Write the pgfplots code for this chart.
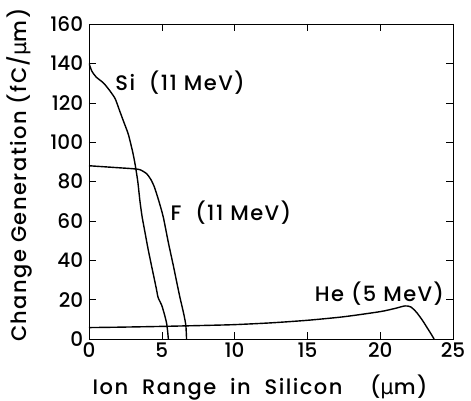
\documentclass[border=0pt]{standalone}
\usepackage{pgfplots}
\pgfplotsset{compat=1.18}
\usepackage{fontspec}
\setmainfont{Poppins Medium}
\newfontfamily\gr{DejaVu Sans}
\newcommand{\fs}{\fontsize{20}{24}\selectfont}
\newcommand{\fl}{\fontsize{21}{25}\selectfont}
\newcommand{\ls}{\addfontfeature{LetterSpace=7}}
\begin{document}
\fs
\begin{tikzpicture}
\path[use as bounding box] (-89pt,-62pt) rectangle (382pt,339pt);
\begin{axis}[
  scale only axis, width=364pt, height=315pt,
  xmin=0, xmax=25, ymin=0, ymax=160,
  xtick={0,5,10,15,20,25}, ytick={0,20,40,60,80,100,120,140,160},
  tick align=inside, major tick length=7pt,
  tick style={black, thin},
  axis line style={black, thin},
  /pgf/number format/assume math mode=true,
  tick label style={font=\fs},
  xticklabel style={yshift=3pt},
  yticklabel style={xshift=1pt},
  xlabel={Ion\ \ Range\ \ in\ \ Silicon\ \ \ \ ({\gr μ}m)},
  ylabel={Change\ Generation\ (fC/{\gr μ}m)},
  label style={font=\fl\ls},
  xlabel style={at={(axis description cs:0.47,-0.155)}, anchor=center},
  ylabel style={at={(axis description cs:-0.19,0.52)}, anchor=center},
]
\addplot[black, line width=1.4pt, smooth, tension=0.4] coordinates {
(0,140)(0.2,136)(0.5,133)(1.0,130)(1.44,126)(1.8,122)(2.1,116)(2.4,110)(2.7,104)(3.0,95)(3.16,89)(3.35,80)(3.5,70)(3.65,62)(3.85,54)(4.05,46)(4.3,37)(4.5,30)(4.64,25)(4.75,21)(5.0,17)(5.2,12)(5.33,8)(5.4,4)(5.45,0)};
\addplot[black, line width=1.4pt, smooth, tension=0.4] coordinates {
(0,88)(1,87.5)(2,87)(3,86.5)(3.5,86)(3.95,84)(4.25,81)(4.5,77)(4.8,70)(5.1,62)(5.45,49)(5.8,37)(6.05,28)(6.25,21)(6.5,13)(6.65,7)(6.7,0)};
\addplot[black, line width=1.4pt, smooth, tension=0.4] coordinates {
(0,5.8)(2,6.0)(5,6.4)(8,6.9)(10,7.3)(12.5,8.2)(15,9.5)(17.5,11.3)(20,13.9)(21,15.5)(21.7,16.8)(22.1,16.3)(22.5,13.5)(22.9,9.5)(23.2,6)(23.5,2.5)(23.7,0)};
\node[anchor=west, inner sep=0pt, font=\fl\ls] at (axis cs:1.8,130) {Si\ \ (11\ MeV)};
\node[anchor=west, inner sep=0pt, font=\fl\ls] at (axis cs:5.6,64) {F\ \ (11\ MeV)};
\node[anchor=east, inner sep=0pt, font=\fl\ls] at (axis cs:24.4,23) {He\ (5\ MeV)};
\end{axis}
\end{tikzpicture}
\end{document}
